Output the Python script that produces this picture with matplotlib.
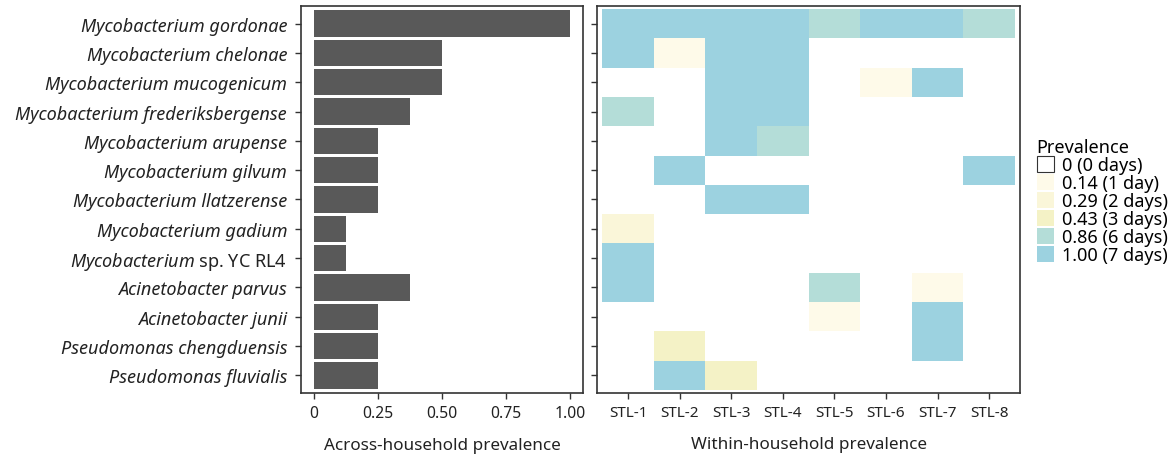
import matplotlib.pyplot as plt
import numpy as np
from matplotlib.colors import ListedColormap, BoundaryNorm
from matplotlib.patches import Patch

plt.rcParams['font.family'] = ['Noto Sans', 'DejaVu Sans']
plt.rcParams['mathtext.fontset'] = 'custom'
plt.rcParams['mathtext.it'] = 'Noto Sans:italic'
plt.rcParams['mathtext.rm'] = 'Noto Sans'

species = [
    "Mycobacterium gordonae",
    "Mycobacterium chelonae",
    "Mycobacterium mucogenicum",
    "Mycobacterium frederiksbergense",
    "Mycobacterium arupense",
    "Mycobacterium gilvum",
    "Mycobacterium llatzerense",
    "Mycobacterium gadium",
    "Mycobacterium sp. YC RL4",
    "Acinetobacter parvus",
    "Acinetobacter junii",
    "Pseudomonas chengduensis",
    "Pseudomonas fluvialis",
]
households = ["STL-1", "STL-2", "STL-3", "STL-4", "STL-5", "STL-6", "STL-7", "STL-8"]

# fraction of households where each species was found
across = [1.0, 0.5, 0.5, 0.375, 0.25, 0.25, 0.25, 0.125, 0.125, 0.375, 0.25, 0.25, 0.25]

# fraction of sampling days (out of 7) in each household
within = np.array([
    [1.00, 1.00, 1.00, 1.00, 0.86, 1.00, 1.00, 0.86],
    [1.00, 0.14, 1.00, 1.00, 0, 0, 0, 0],
    [0, 0, 1.00, 1.00, 0, 0.14, 1.00, 0],
    [0.86, 0, 1.00, 1.00, 0, 0, 0, 0],
    [0, 0, 1.00, 0.86, 0, 0, 0, 0],
    [0, 1.00, 0, 0, 0, 0, 0, 1.00],
    [0, 0, 1.00, 1.00, 0, 0, 0, 0],
    [0.29, 0, 0, 0, 0, 0, 0, 0],
    [1.00, 0, 0, 0, 0, 0, 0, 0],
    [1.00, 0, 0, 0, 0.86, 0, 0.14, 0],
    [0, 0, 0, 0, 0.14, 0, 1.00, 0],
    [0, 0.43, 0, 0, 0, 0, 1.00, 0],
    [0, 1.00, 0.43, 0, 0, 0, 0, 0],
])

levels = [0, 0.14, 0.29, 0.43, 0.86, 1.00]
level_labels = ["0 (0 days)", "0.14 (1 day)", "0.29 (2 days)", "0.43 (3 days)",
                "0.86 (6 days)", "1.00 (7 days)"]
level_colors = ["#ffffff", "#fefae9", "#faf6d9", "#f4f2c6", "#b4ddd8", "#9cd2e0"]

edge = "#333333"
fig = plt.figure(figsize=(11.73, 4.56), dpi=100)
ax1 = fig.add_axes([0.2566, 0.136, 0.2404, 0.8487])
ax2 = fig.add_axes([0.509, 0.136, 0.3606, 0.8487])

y = np.arange(len(species))

# left: bar chart
ax1.barh(y, across, height=0.9, color="#595959")
ax1.set_xlim(-0.05, 1.05)
ax1.set_ylim(len(species) - 0.4, -0.6)
ax1.set_xticks([0, 0.25, 0.5, 0.75, 1.0])
ax1.set_xticklabels(["0", "0.25", "0.50", "0.75", "1.00"])
ax1.set_yticks(y)
labels = []
for s in species:
    if " sp. " in s:
        genus, rest = s.split(" sp. ")
        labels.append(r"$\mathit{%s}$ sp. %s" % (genus, rest))
    else:
        labels.append(s)
ax1.set_yticklabels(labels)
for t, s in zip(ax1.get_yticklabels(), species):
    if " sp. " not in s:
        t.set_fontstyle("italic")
ax1.set_xlabel("Across-household prevalence", fontsize=12.3, labelpad=11, color="#222222")

# right: heatmap
cmap = ListedColormap(level_colors)
norm = BoundaryNorm([-0.01, 0.07, 0.2, 0.35, 0.6, 0.93, 1.01], cmap.N)
xe = np.arange(len(households) + 1) - 0.5
ye = np.arange(len(species) + 1) - 0.5
ax2.pcolormesh(xe, ye, within, cmap=cmap, norm=norm, edgecolors="none")
ax2.set_xlim(-0.6, len(households) - 0.4)
ax2.set_ylim(len(species) - 0.4, -0.6)
ax2.set_xticks(np.arange(len(households)))
ax2.set_xticklabels(households)
ax2.set_yticks(y)
ax2.set_yticklabels([])
ax2.set_xlabel("Within-household prevalence", fontsize=12.3, labelpad=11, color="#222222")

for ax in (ax1, ax2):
    for sp in ax.spines.values():
        sp.set_color(edge)
        sp.set_linewidth(1.2)
    ax.tick_params(axis="both", length=4, width=1, color=edge, labelcolor="#222222")
ax1.tick_params(axis="y", labelsize=13, pad=6)
ax1.tick_params(axis="x", labelsize=11.3, pad=5)
ax2.tick_params(axis="x", labelsize=11, pad=5)

# legend
handles = []
for i, c in enumerate(level_colors):
    handles.append(Patch(facecolor=c, edgecolor=edge if i == 0 else "none", linewidth=0.8))
fig.legend(handles, level_labels, title="Prevalence", loc="upper left",
           bbox_to_anchor=(0.8776, 0.71), frameon=False, fontsize=13,
           title_fontsize=13, handlelength=0.95, handleheight=0.95,
           labelspacing=0, handletextpad=0.45, borderaxespad=0, alignment="left")

plt.savefig("out.png", dpi=100)
